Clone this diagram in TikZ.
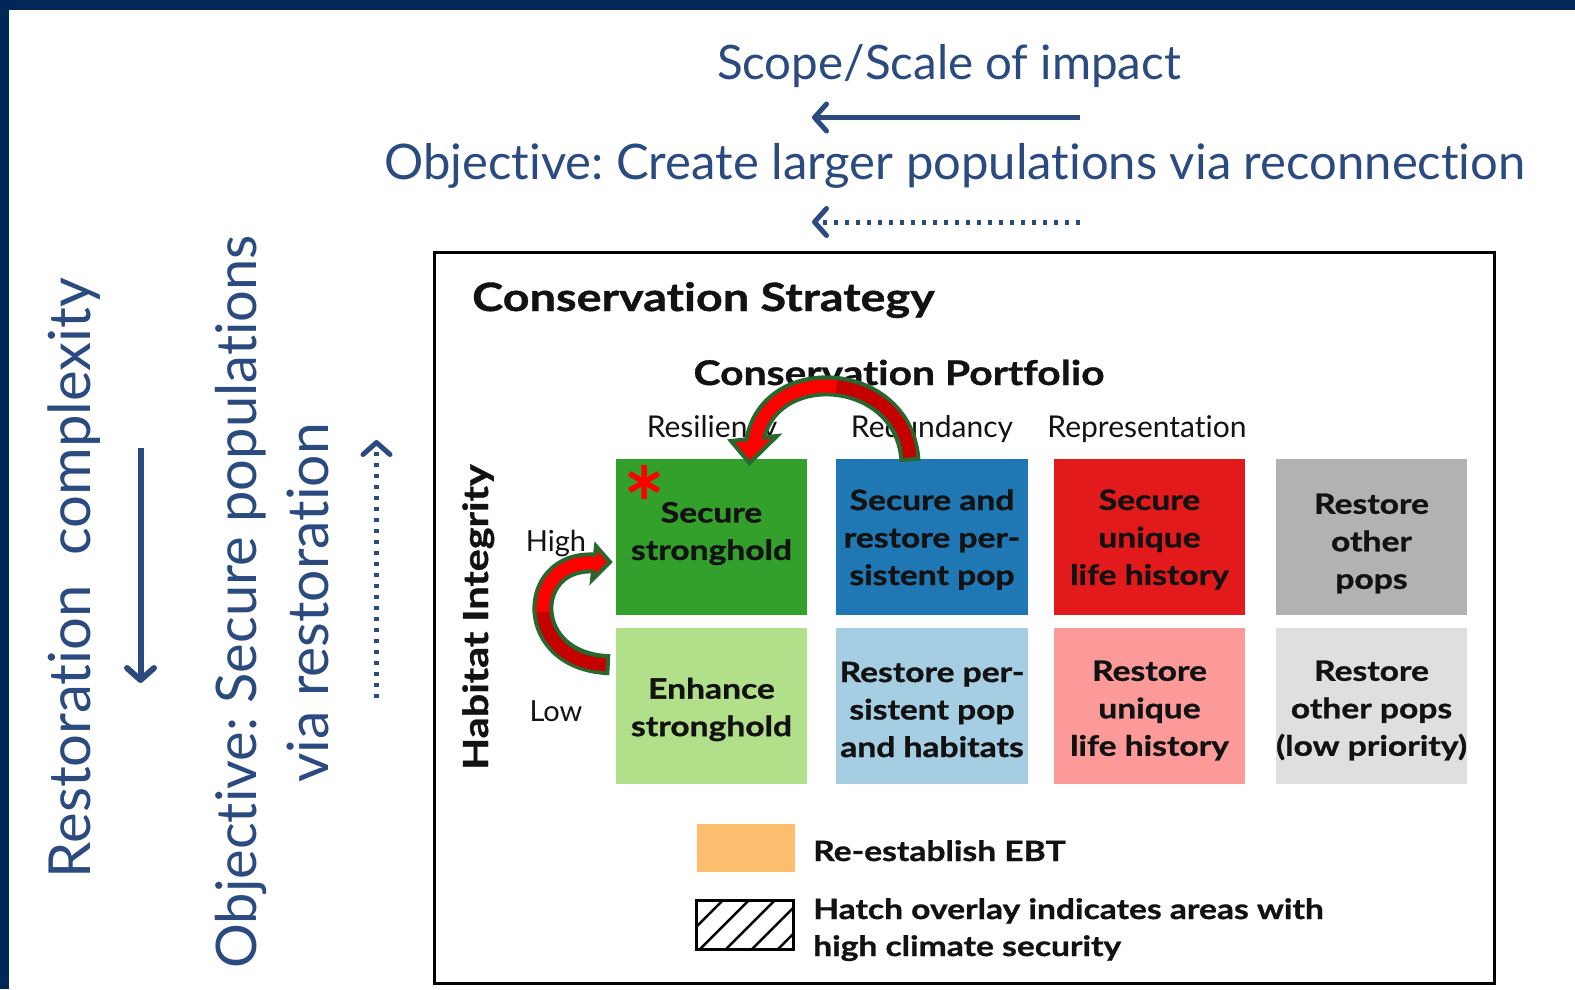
\documentclass[tikz,border=0pt]{standalone}
\usepackage{fontspec}
\setmainfont[Ligatures=NoCommon]{Lato}
\newfontfamily\heavy[Ligatures=NoCommon,FakeStretch=1.2,BoldFeatures={FakeBold=1}]{Lato}
\usetikzlibrary{arrows.meta}

\definecolor{frameblue}{RGB}{0,40,86}
\definecolor{titleblue}{RGB}{42,74,128}
\definecolor{cgreen}{RGB}{51,160,44}
\definecolor{cblue}{RGB}{31,120,180}
\definecolor{cred}{RGB}{227,26,28}
\definecolor{cgrey}{RGB}{178,178,178}
\definecolor{lgreen}{RGB}{178,223,138}
\definecolor{lblue}{RGB}{166,206,227}
\definecolor{lred}{RGB}{251,154,153}
\definecolor{lgrey}{RGB}{223,223,223}
\definecolor{corange}{RGB}{253,191,111}
\definecolor{celltext}{RGB}{18,18,18}
\definecolor{arrowgreen}{RGB}{38,104,46}
\definecolor{arrowred}{RGB}{255,0,0}
\definecolor{arrowdark}{RGB}{196,0,0}

\newcommand{\fsz}[2]{\fontsize{#1}{#2}\selectfont}

\tikzset{
  cell/.style={minimum width=191pt, minimum height=156pt, inner sep=0pt},
  celltxt/.style={inner sep=0pt, align=center, text=celltext,
    font=\heavy\bfseries\fsz{28}{37.5}},
  boldtxt/.style={text=celltext, inner sep=0pt, font=\heavy\bfseries\fsz{28}{37}},
  bluetext/.style={text=titleblue, inner sep=0pt},
  plaintext/.style={text=celltext, inner sep=0pt},
  solidarrow/.style={titleblue, line width=5pt,
    -{Straight Barb[length=12pt,width=27pt,round]}},
  dotarrow/.style={titleblue, line width=5pt, dash pattern=on 4.5pt off 6.5pt,
    -{Straight Barb[length=12pt,width=27pt,round]}},
  outline/.style={arrowgreen, line width=21pt},
  fillhead/.style={arrowred, line width=13pt},
  filltail/.style={arrowdark, line width=13pt},
  headshape/.style={fill=arrowred, draw=arrowgreen, line width=4pt, line join=miter}
}

\begin{document}
\frenchspacing
\begin{tikzpicture}[x=1pt, y=-1pt]
\useasboundingbox (0,0) rectangle (1575,989);
\fill[white] (0,0) rectangle (1575,989);

% slide frame
\fill[frameblue] (0,0) rectangle (1575,10);
\fill[frameblue] (0,0) rectangle (9,989);

% headings with their direction arrows
\node[bluetext, anchor=base, font=\fsz{47.5}{60}] (scope) at (949,79) {Scope/Scale of impact};
\coordinate (s1) at (1080,117.5);
\coordinate (s2) at (812,117.5);
\draw[solidarrow] (s1) -- (s2);
\node[bluetext, anchor=base, font=\fsz{49}{60}] (objtop) at (955,179) {Objective: Create larger populations via reconnection};
\coordinate (d1) at (1080,222);
\coordinate (d2) at (812,222);
\draw[dotarrow] (d1) -- (d2);

% left side
\node[bluetext, anchor=base, rotate=90, font=\fsz{58}{70}] (restcomp) at (90,578) {Restoration\ \ complexity};
\coordinate (r1) at (140.5,448);
\coordinate (r2) at (140.5,683);
\draw[solidarrow, line width=6pt] (r1) -- (r2);
\node[bluetext, anchor=base, rotate=90, font=\fsz{56}{70}] (objleft) at (256,602) {Objective: Secure populations};
\node[bluetext, anchor=base, rotate=90, font=\fsz{57}{70}] (vialeft) at (328,603) {via restoration};
\coordinate (u1) at (376.5,698);
\coordinate (u2) at (376.5,440);
\draw[dotarrow] (u1) -- (u2);

% strategy box
\node[draw=black, line width=3pt, minimum width=1060pt, minimum height=731pt, inner sep=0pt] (box) at (964,617.5) {};
\node[plaintext, anchor=base west, font=\heavy\bfseries\fsz{39}{44}] (strat) at (472,311) {Conservation Strategy};
\node[plaintext, anchor=base, font=\heavy\bfseries\fsz{34}{40}] (portf) at (899,385) {Conservation Portfolio};
\node[plaintext, anchor=base, font=\fsz{30}{36}] (resil) at (712,437) {Resiliency};
\node[plaintext, anchor=base, font=\fsz{30}{36}] (redun) at (932,437) {Redundancy};
\node[plaintext, anchor=base, font=\fsz{30}{36}] (repre) at (1147,437) {Representation};
\node[plaintext, anchor=base, rotate=90, font=\heavy\bfseries\fsz{34.5}{38}] (habint) at (488,617) {Habitat Integrity};
\node[plaintext, anchor=base, font=\fsz{29}{36}] (high) at (556,551) {High};
\node[plaintext, anchor=base, font=\fsz{29}{36}] (low) at (556,721) {Low};

% portfolio grid
\node[cell, fill=cgreen] (c11) at (711.5,536.5) {};
\node[cell, fill=cblue, minimum width=192pt] (c12) at (932,536.5) {};
\node[cell, fill=cred] (c13) at (1149.5,536.5) {};
\node[cell, fill=cgrey] (c14) at (1371.5,536.5) {};
\node[cell, fill=lgreen] (c21) at (711.5,705.5) {};
\node[cell, fill=lblue, minimum width=192pt] (c22) at (932,705.5) {};
\node[cell, fill=lred] (c23) at (1149.5,705.5) {};
\node[cell, fill=lgrey] (c24) at (1371.5,705.5) {};

\node[celltxt] (t11) at ([yshift=3pt]c11.center) {Secure\\stronghold};
\node[celltxt] (t12) at ([yshift=-3pt]c12.center) {Secure and\\restore per-\\sistent pop};
\node[celltxt] (t13) at ([yshift=-3pt]c13.center) {Secure\\unique\\life history};
\node[celltxt] (t14) at ([yshift=-7pt]c14.center) {Restore\\other\\pops};
\node[celltxt] (t21) at ([yshift=-4pt]c21.center) {Enhance\\stronghold};
\node[celltxt] (t22) at ([yshift=-4pt]c22.center) {Restore per-\\sistent pop\\and habitats};
\node[celltxt] (t23) at ([yshift=-5pt]c23.center) {Restore\\unique\\life history};
\node[celltxt] (t24) at ([yshift=-5pt]c24.center) {Restore\\other pops\\(low priority)};

% red asterisk on the stronghold cell
\draw[arrowred, line width=5.5pt] (644,465) -- (644,499)
  (629.3,473.5) -- (658.7,490.5) (629.3,490.5) -- (658.7,473.5);

% curved arrow: redundancy -> stronghold
\coordinate (a1s) at ([xshift=-22pt,yshift=-3pt]c12.north);
\coordinate (a1e) at (755,440);
\draw[outline] (a1s) .. controls (905,370) and (770,360) .. (a1e);
\filldraw[headshape] (731,441) -- (749.5,463) -- (777,436) -- cycle;
\draw[filltail, shorten <=4pt] (a1s) .. controls (907.5,416) and (872.5,390.5) .. (836.25,386.6);
\draw[fillhead] (836.25,386.6) .. controls (800,382.75) and (762.5,400.5) .. (a1e) -- (754,446);

% curved arrow: enhance -> secure stronghold
\coordinate (a2s) at ([xshift=-6pt,yshift=-50pt]c11.south west);
\coordinate (a2e) at (593,563);
\draw[outline] (a2s) .. controls (522,662) and (525,560) .. (a2e);
\filldraw[headshape] (596,546) -- (610,562) -- (592,580) -- cycle;
\draw[filltail, shorten <=4pt] (a2s) .. controls (566,663.5) and (544.75,637.25) .. (543,611.75);
\draw[fillhead] (543,611.75) .. controls (541.25,586.25) and (559,561.5) .. (a2e) -- (598,563);

% legend
\node[fill=corange, minimum width=98pt, minimum height=48pt, inner sep=0pt] (legebt) at (746,848) {};
\node[boldtxt, anchor=base west] (txtebt) at (813,861) {Re-establish EBT};
\node[draw=black, line width=3pt, minimum width=97pt, minimum height=49pt, inner sep=0pt] (leghatch) at (744.5,924.5) {};
\begin{scope}
  \clip (696,900) rectangle (793,949);
  \foreach \k in {0,...,6} {
    \draw[black, line width=2.5pt] (622+26*\k,949) -- (671+26*\k,900);
  }
\end{scope}
\node[boldtxt, anchor=base west] (txthatch1) at (813,919) {Hatch overlay indicates areas with};
\node[boldtxt, anchor=base west] (txthatch2) at (813,956) {high climate security};
\end{tikzpicture}
\end{document}
